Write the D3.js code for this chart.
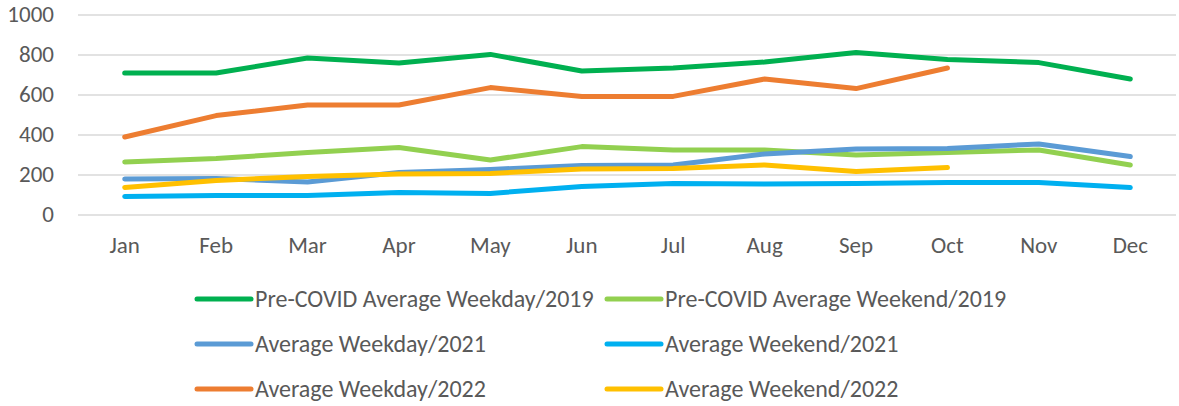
<!DOCTYPE html>
<html>
<head>
<meta charset="utf-8">
<script src="https://cdn.jsdelivr.net/npm/d3@7"></script>
<style>
  body { margin: 0; background: #fff; }
  svg text { font-family: Calibri, Carlito, Lato, sans-serif; fill: #595959; }
</style>
</head>
<body>
<svg id="chart"></svg>
<script>
const months = ["Jan", "Feb", "Mar", "Apr", "May", "Jun", "Jul", "Aug", "Sep", "Oct", "Nov", "Dec"];
const yTicks = [0, 200, 400, 600, 800, 1000];

// series values (2022 stops at Oct)
const weekday2019 = [710, 710, 785, 760, 803, 720, 735, 765, 813, 778, 762, 680];
const weekend2019 = [265, 282, 312, 338, 275, 342, 325, 325, 300, 313, 325, 250];
const weekday2021 = [180, 182, 165, 213, 228, 247, 250, 305, 330, 333, 355, 292];
const weekend2021 = [93, 97, 98, 113, 108, 142, 158, 155, 157, 163, 162, 137];
const weekday2022 = [390, 497, 550, 550, 637, 592, 593, 680, 632, 735];
const weekend2022 = [138, 173, 192, 205, 208, 230, 233, 250, 217, 237];

const seriesNames = [
  "Pre-COVID Average Weekday/2019", "Pre-COVID Average Weekend/2019",
  "Average Weekday/2021", "Average Weekend/2021",
  "Average Weekday/2022", "Average Weekend/2022"
];
const seriesValues = [weekday2019, weekend2019, weekday2021, weekend2021, weekday2022, weekend2022];
const seriesColors = ["#00b050", "#92d050", "#5b9bd5", "#00b0f0", "#ed7d31", "#ffc000"];

const width = 1179, height = 406;
const margin = { top: 15, right: 3, bottom: 191, left: 79 };

const svg = d3.select("#chart")
  .attr("width", width)
  .attr("height", height);

const x = d3.scaleBand()
  .domain(months)
  .range([margin.left, width - margin.right]);

const y = d3.scaleLinear()
  .domain([0, 1000])
  .range([height - margin.bottom, margin.top]);

// gridlines
svg.append("g")
  .selectAll("line")
  .data(yTicks)
  .join("line")
  .attr("x1", margin.left - 1)
  .attr("x2", width - margin.right)
  .attr("y1", d => y(d))
  .attr("y2", d => y(d))
  .attr("stroke", "#d9d9d9")
  .attr("stroke-width", 1.3);

// y labels
svg.append("g")
  .selectAll("text")
  .data(yTicks)
  .join("text")
  .attr("x", 54)
  .attr("y", d => y(d))
  .attr("dy", "0.32em")
  .attr("text-anchor", "end")
  .attr("font-size", 23)
  .text(d => d);

// x labels
svg.append("g")
  .selectAll("text")
  .data(months)
  .join("text")
  .attr("x", d => x(d) + x.bandwidth() / 2)
  .attr("y", 253)
  .attr("text-anchor", "middle")
  .attr("font-size", 23)
  .text(d => d);

const line = d3.line()
  .x((d, i) => x(months[i]) + x.bandwidth() / 2)
  .y(d => y(d));

svg.append("g")
  .selectAll("path")
  .data(seriesValues)
  .join("path")
  .attr("d", d => line(d))
  .attr("fill", "none")
  .attr("stroke", (d, i) => seriesColors[i])
  .attr("stroke-width", 5)
  .attr("stroke-linejoin", "round")
  .attr("stroke-linecap", "round");

// legend: 2 columns x 3 rows
const legendCols = [197, 607];
const legendRows = [299, 344, 389];

const item = svg.append("g")
  .selectAll("g")
  .data(seriesNames)
  .join("g")
  .attr("transform", (d, i) => `translate(${legendCols[i % 2]},${legendRows[Math.floor(i / 2)]})`);

item.append("line")
  .attr("x1", 0)
  .attr("x2", 54)
  .attr("stroke", (d, i) => seriesColors[i])
  .attr("stroke-width", 5)
  .attr("stroke-linecap", "round");

item.append("text")
  .attr("x", 58)
  .attr("dy", "0.32em")
  .attr("font-size", 24)
  .text(d => d);
</script>
</body>
</html>
